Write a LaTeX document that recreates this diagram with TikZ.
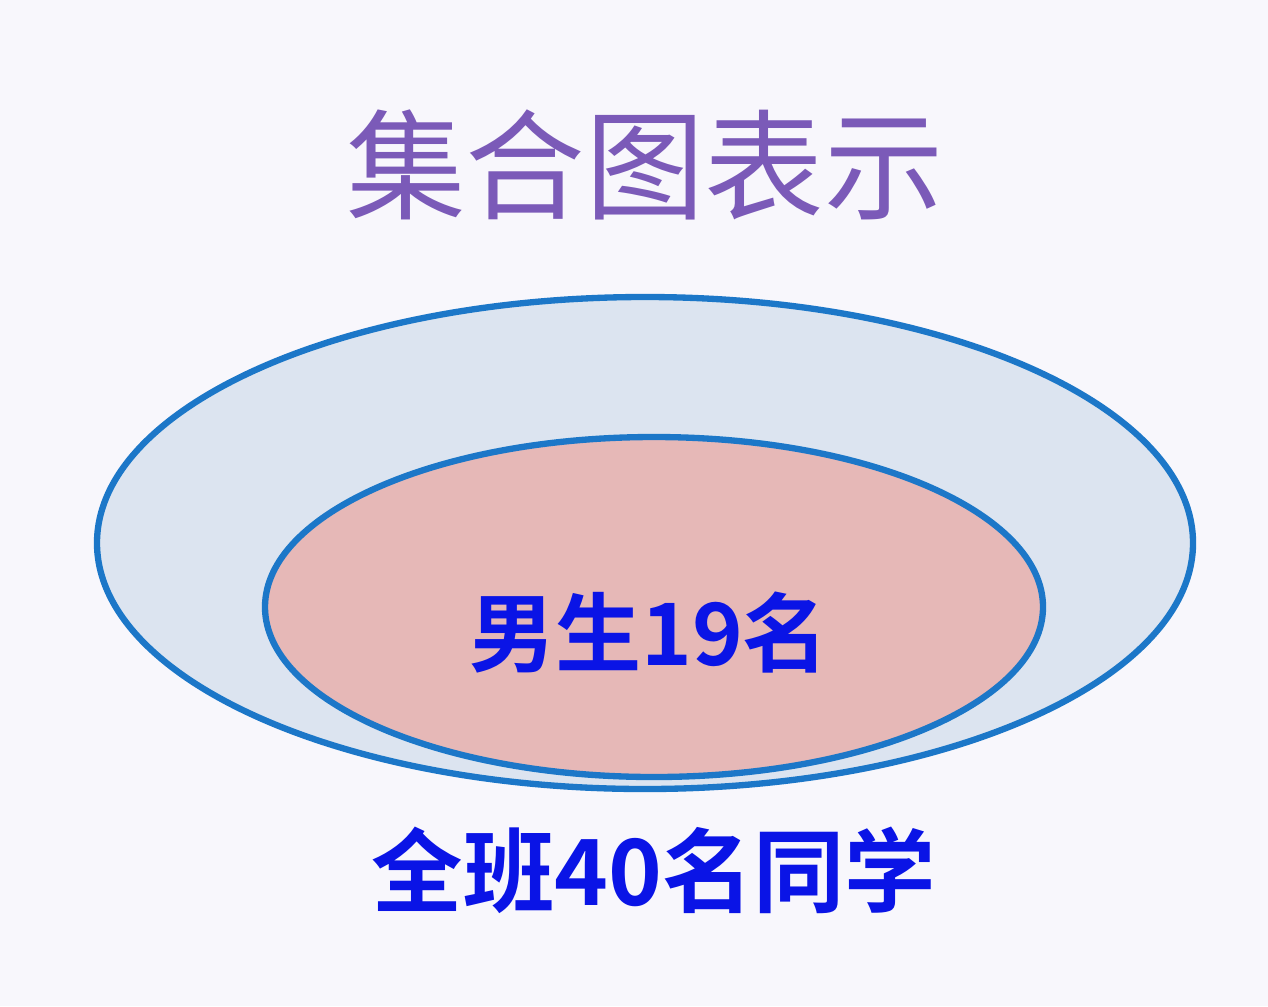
\documentclass[tikz,border=0pt]{standalone}
\usepackage{fontspec}
\newfontfamily\cjk{Noto Sans CJK SC}
\newfontfamily\cjkbold{Noto Sans CJK SC Bold}
\definecolor{bgcol}{HTML}{F8F7FC}
\definecolor{setline}{HTML}{1C77C8}
\definecolor{allfill}{HTML}{DCE4F0}
\definecolor{boyfill}{HTML}{E6B8B7}
\definecolor{titlecol}{HTML}{7B5AB8}
\definecolor{labelcol}{HTML}{0A14E6}

\begin{document}
\begin{tikzpicture}
	\fill[bgcol] (0,0) rectangle (12.68,10.06);
	\useasboundingbox (0,0) rectangle (12.68,10.06);

	\node (title) at (6.45,8.41) {\cjk\fontsize{34pt}{34pt}\selectfont\color{titlecol}集合图表示};

	\draw[setline,fill=allfill,line width=1.8pt] (6.45,4.63) ellipse[x radius=5.48,y radius=2.46];
	\draw[setline,fill=boyfill,line width=1.8pt] (6.54,3.99) ellipse[x radius=3.89,y radius=1.70];

	\node (boys) at (6.49,3.73) {\cjkbold\fontsize{24.5pt}{24.5pt}\selectfont\color{labelcol}男生19名};
	\node (class) at (6.54,1.36) {\cjkbold\fontsize{26pt}{26pt}\selectfont\color{labelcol}全班40名同学};
\end{tikzpicture}
\end{document}
